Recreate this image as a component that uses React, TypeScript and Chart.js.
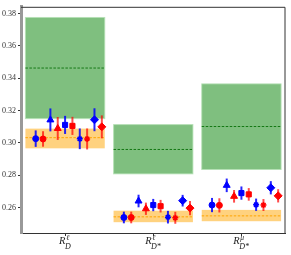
import React, { useEffect, useRef } from "react";
import { Chart, registerables } from "chart.js";

Chart.register(...registerables);

// ---- data ----
const groupCenters = [0, 1, 2];
const labelBase = ["R", "R", "R"];
const labelSup = ["ℓ", "ℓ", "μ"];
const labelSub = ["D", "D*", "D*"];
const yTickValues = [0.26, 0.28, 0.3, 0.32, 0.34, 0.36, 0.38];

const greenLow = [0.315, 0.2808, 0.2835];
const greenHigh = [0.3776, 0.3113, 0.3365];
const greenMid = [0.3463, 0.2959, 0.3101];
const orangeLow = [0.2966, 0.2509, 0.2515];
const orangeHigh = [0.3088, 0.258, 0.2585];
const orangeMid = [0.3032, 0.2542, 0.2548];

const blueCircle = [0.3026, 0.2538, 0.2615];
const blueCircleErr = [0.0051, 0.0036, 0.0044];
const redCircle = [0.3024, 0.2538, 0.2613];
const redCircleErr = [0.0048, 0.0036, 0.0044];
const blueTriangle = [0.3142, 0.264, 0.2737];
const blueTriangleErr = [0.0071, 0.0039, 0.0042];
const redTriangle = [0.3089, 0.2592, 0.2669];
const redTriangleErr = [0.0071, 0.0038, 0.0039];
const blueSquare = [0.3111, 0.2615, 0.2689];
const blueSquareErr = [0.0056, 0.0038, 0.0041];
const redSquare = [0.3105, 0.2608, 0.2681];
const redSquareErr = [0.0056, 0.0039, 0.0039];
const blueStar = [0.3025, 0.254, 0.2617];
const blueStarErr = [0.0064, 0.0039, 0.0038];
const redStar = [0.3024, 0.2536, 0.2615];
const redStarErr = [0.0065, 0.0037, 0.0037];
const blueDiamond = [0.3143, 0.2642, 0.2722];
const blueDiamondErr = [0.0071, 0.0036, 0.0041];
const redDiamond = [0.3099, 0.2596, 0.2672];
const redDiamondErr = [0.0071, 0.0044, 0.0041];

const seriesValues = [
  blueCircle, redCircle, blueTriangle, redTriangle, blueSquare,
  redSquare, blueStar, redStar, blueDiamond, redDiamond,
];
const seriesErrors = [
  blueCircleErr, redCircleErr, blueTriangleErr, redTriangleErr, blueSquareErr,
  redSquareErr, blueStarErr, redStarErr, blueDiamondErr, redDiamondErr,
];
const seriesOffsets = [-4, -3, -2, -1, 0, 1, 2, 3, 4, 5];

const BLUE = "rgb(0,0,255)";
const RED = "rgb(255,0,0)";
const seriesStyles = [
  { c: BLUE, s: "circle", r: 3 },
  { c: RED, s: "circle", r: 3 },
  { c: BLUE, s: "triangle", r: 4 },
  { c: RED, s: "triangle", r: 4 },
  { c: BLUE, s: "rect", r: 3.6 },
  { c: RED, s: "rect", r: 3.6 },
  { c: BLUE, s: "star", r: 3 },
  { c: RED, s: "star", r: 3 },
  { c: BLUE, s: "rectRot", r: 4 },
  { c: RED, s: "rectRot", r: 4 },
];

const HALF = 0.45;
const STEP = 1 / 12;

const boxesPlugin = {
  id: "boxes",
  beforeDatasetsDraw(chart: any) {
    const { ctx } = chart;
    const xs = chart.scales.x;
    const ys = chart.scales.y;
    ctx.save();
    groupCenters.forEach((c, i) => {
      const x0 = xs.getPixelForValue(c - HALF);
      const x1 = xs.getPixelForValue(c + HALF);
      // green
      let yt = ys.getPixelForValue(greenHigh[i]);
      let yb = ys.getPixelForValue(greenLow[i]);
      ctx.fillStyle = "rgba(0,128,0,0.5)";
      ctx.fillRect(x0, yt, x1 - x0, yb - yt);
      ctx.strokeStyle = "rgba(180,225,180,0.8)";
      ctx.lineWidth = 1;
      ctx.strokeRect(x0, yt, x1 - x0, yb - yt);
      let ym = ys.getPixelForValue(greenMid[i]);
      ctx.setLineDash([2.5, 1.5]);
      ctx.strokeStyle = "rgb(20,120,20)";
      ctx.lineWidth = 1;
      ctx.beginPath();
      ctx.moveTo(x0, ym);
      ctx.lineTo(x1, ym);
      ctx.stroke();
      ctx.setLineDash([]);
      // orange
      yt = ys.getPixelForValue(orangeHigh[i]);
      yb = ys.getPixelForValue(orangeLow[i]);
      ctx.fillStyle = "rgba(255,165,0,0.5)";
      ctx.fillRect(x0, yt, x1 - x0, yb - yt);
      ym = ys.getPixelForValue(orangeMid[i]);
      ctx.setLineDash([2.5, 1.5]);
      ctx.strokeStyle = "rgb(255,165,0)";
      ctx.beginPath();
      ctx.moveTo(x0, ym);
      ctx.lineTo(x1, ym);
      ctx.stroke();
      ctx.setLineDash([]);
    });
    // error bars
    seriesValues.forEach((vals, si) => {
      const st = seriesStyles[si];
      ctx.strokeStyle = st.c === BLUE ? "rgba(0,0,255,0.85)" : "rgba(255,0,0,0.7)";
      ctx.lineWidth = 2;
      vals.forEach((v, gi) => {
        const x = xs.getPixelForValue(groupCenters[gi] + seriesOffsets[si] * STEP);
        const e = seriesErrors[si][gi];
        ctx.beginPath();
        ctx.moveTo(x, ys.getPixelForValue(v - e));
        ctx.lineTo(x, ys.getPixelForValue(v + e));
        ctx.stroke();
      });
    });
    ctx.restore();
  },
  afterDraw(chart: any) {
    const { ctx, chartArea } = chart;
    const xs = chart.scales.x;
    ctx.save();
    ctx.strokeStyle = "#333";
    ctx.lineWidth = 1;
    ctx.beginPath();
    ctx.moveTo(chartArea.left, chartArea.top + 0.5);
    ctx.lineTo(chartArea.right - 0.5, chartArea.top + 0.5);
    ctx.lineTo(chartArea.right - 0.5, chartArea.bottom);
    ctx.stroke();
    // x labels with sub/superscripts
    ctx.fillStyle = "#222";
    ctx.textBaseline = "alphabetic";
    ctx.textAlign = "left";
    groupCenters.forEach((c, i) => {
      const cx = xs.getPixelForValue(c);
      const baseFont = 'italic 10.5px "Liberation Serif"';
      const supFont = 'italic 7.5px "Liberation Serif"';
      const subFont = 'italic 8px "Liberation Serif"';
      ctx.font = baseFont;
      const wR = ctx.measureText(labelBase[i]).width;
      ctx.font = supFont;
      const wSup = ctx.measureText(labelSup[i]).width;
      ctx.font = subFont;
      const wSub = ctx.measureText(labelSub[i]).width;
      const total = wR + Math.max(wSup, wSub);
      const x0 = cx - total / 2;
      ctx.font = baseFont;
      ctx.fillText(labelBase[i], x0, 244);
      ctx.font = supFont;
      ctx.fillText(labelSup[i], x0 + wR + 0.5, 239.5);
      ctx.font = subFont;
      ctx.fillText(labelSub[i], x0 + wR - 0.5, 249);
    });
    ctx.restore();
  },
};

export default function App() {
  const ref = useRef<HTMLCanvasElement | null>(null);
  useEffect(() => {
    document.body.style.margin = "0";
    const datasets = seriesValues.map((vals, si) => ({
      type: "scatter" as const,
      data: vals.map((v, gi) => ({ x: groupCenters[gi] + seriesOffsets[si] * STEP, y: v })),
      pointStyle: seriesStyles[si].s,
      pointRadius: seriesStyles[si].r,
      backgroundColor: seriesStyles[si].c,
      borderColor: seriesStyles[si].c,
      borderWidth: seriesStyles[si].s === "star" ? 1.5 : 1,
    }));
    const chart = new Chart(ref.current as HTMLCanvasElement, {
      type: "scatter",
      data: { datasets: datasets as any },
      options: {
        animation: false,
        responsive: false,
        events: [],
        layout: { padding: { top: 3, right: 4, left: 0, bottom: 0 } },
        plugins: { legend: { display: false }, tooltip: { enabled: false } },
        scales: {
          x: {
            type: "linear",
            min: -0.5,
            max: 2.5,
            afterBuildTicks: (s: any) => {
              s.ticks = groupCenters.map((v) => ({ value: v }));
            },
            afterFit: (s: any) => {
              s.height = 22;
            },
            ticks: { display: false },
            grid: { display: true, drawOnChartArea: false, drawTicks: true, tickLength: 3, color: "#333" },
            border: { color: "#333", width: 1 },
          },
          y: {
            type: "linear",
            min: 0.2442,
            max: 0.3842,
            afterBuildTicks: (s: any) => {
              s.ticks = yTickValues.map((v) => ({ value: v }));
            },
            afterFit: (s: any) => {
              s.width = 21;
            },
            ticks: {
              callback: (v: any) => Number(v).toFixed(2),
              font: { family: '"Liberation Serif"', size: 8 },
              color: "#333",
              padding: 2,
            },
            grid: { display: true, drawOnChartArea: false, drawTicks: true, tickLength: 3, color: "#333" },
            border: { color: "#999", width: 3 },
          },
        },
      },
      plugins: [boxesPlugin],
    });
    return () => chart.destroy();
  }, []);
  return (
    <div style={{ position: "absolute", left: 0, top: 0, width: 291, height: 255 }}>
      <canvas ref={ref} width={291} height={255} style={{ width: 291, height: 255 }} />
    </div>
  );
}
